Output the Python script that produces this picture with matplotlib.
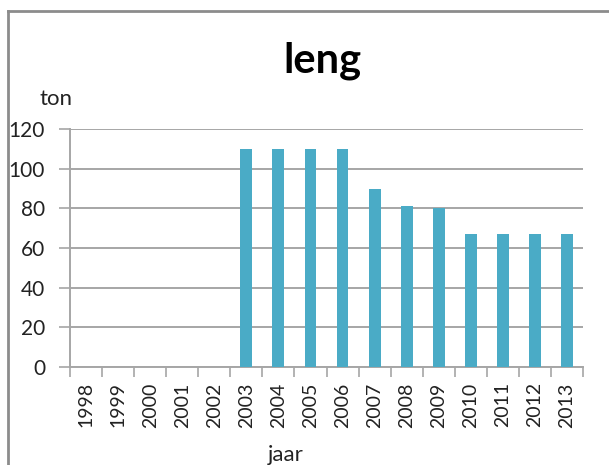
import matplotlib
matplotlib.use("Agg")
import matplotlib.pyplot as plt
from matplotlib.lines import Line2D
from matplotlib.ticker import FixedLocator, NullFormatter, FixedFormatter

years = ["1998", "1999", "2000", "2001", "2002", "2003", "2004", "2005",
         "2006", "2007", "2008", "2009", "2010", "2011", "2012", "2013"]
values = [0, 0, 0, 0, 0, 110, 110, 110, 110, 90, 81, 80, 67, 67, 67, 67]
title = "leng"
ylabel = "ton"
xlabel = "jaar"

W, H = 609, 465
fig = plt.figure(figsize=(W / 100, H / 100), dpi=100)
plt.rcParams['font.family'] = ['Lato', 'DejaVu Sans']

L, R, T, B = 70, 583, 129, 367
ax = fig.add_axes([L / W, 1 - B / H, (R - L) / W, (B - T) / H])

x = list(range(len(years)))
ax.bar(x, values, width=0.37, color="#4AABC6", zorder=3)

ax.set_xlim(-0.5, len(years) - 0.5)
ax.set_ylim(0, 120)
ax.set_yticks(range(0, 121, 20))
ax.yaxis.grid(True, color="#A6A6A6", linewidth=1.4, zorder=0)
ax.tick_params(axis='y', length=8, width=1.2, color="#A6A6A6", pad=10,
               labelsize=15, labelcolor="#222222")

ax.xaxis.set_major_locator(FixedLocator([i - 0.5 for i in range(len(years) + 1)]))
ax.xaxis.set_major_formatter(NullFormatter())
ax.xaxis.set_minor_locator(FixedLocator(x))
ax.xaxis.set_minor_formatter(FixedFormatter(years))
ax.tick_params(axis='x', which='major', length=7, width=1.2, color="#A6A6A6")
ax.tick_params(axis='x', which='minor', length=0, pad=11, labelsize=14,
               labelrotation=90, labelcolor="#222222")

for s in ["top", "right"]:
    ax.spines[s].set_visible(False)
for s in ["left", "bottom"]:
    ax.spines[s].set_color("#A6A6A6")
    ax.spines[s].set_linewidth(1.4)

fig.text(322 / W, 1 - 72 / H, title, ha="center", va="baseline",
         fontsize=30, fontweight="bold", color="black")
fig.text(56 / W, 1 - 105 / H, ylabel, ha="center", va="baseline",
         fontsize=16, color="#222222")
fig.text(286 / W, 1 - 461 / H, xlabel, ha="center", va="baseline",
         fontsize=16, color="#222222")

# chart frame
fig.add_artist(Line2D([7.5 / W, 7.5 / W], [0, 1 - 11 / H], transform=fig.transFigure,
                      color="#8C8C8C", linewidth=2))
fig.add_artist(Line2D([7.5 / W, 1], [1 - 11 / H, 1 - 11 / H], transform=fig.transFigure,
                      color="#8C8C8C", linewidth=2))

fig.savefig("out.png", dpi=100)
